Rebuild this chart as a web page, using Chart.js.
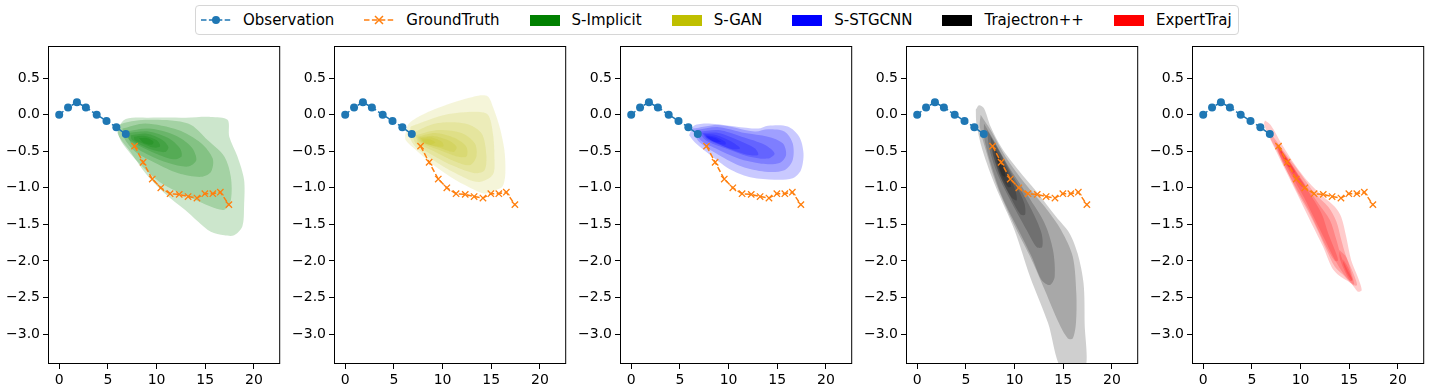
<!DOCTYPE html>
<html lang="en">
<head>
<meta charset="UTF-8">
<title>Trajectory prediction densities</title>
<script src="https://cdn.jsdelivr.net/npm/chart.js"></script>
<style>
  body { margin: 0; background: #fff; font-family: "DejaVu Sans", sans-serif; }
  #wrap { position: relative; width: 1432px; height: 392px; overflow: hidden; }
  .panel { position: absolute; top: 40px; }
  #legend { position: absolute; left: 195px; top: 5px; height: 30px; box-sizing: border-box;
            border: 1px solid #d6d6d6; border-radius: 4px; display: flex; align-items: center;
            padding: 0 6px 0 5px; font-size: 15px; color: #000; white-space: nowrap; }
  .item { display: flex; align-items: center; margin-right: 30px; }
  .item:last-child { margin-right: 0; }
  .item svg, .item .patch { margin-right: 12px; flex: none; }
  .patch { width: 30px; height: 11px; }
</style>
</head>
<body>
<div id="wrap">
  <div id="legend"></div>
</div>
<script>
// observed and future trajectory (same in every panel)
const obsX = [0, 0.91, 1.82, 2.74, 3.85, 4.86, 5.87, 6.84];
const obsY = [0, 0.10, 0.17, 0.10, 0, -0.085, -0.17, -0.265];
const gtX = [7.74, 8.62, 9.56, 10.44, 11.39, 12.33, 13.24, 14.15, 14.96, 15.78, 16.55, 17.43];
const gtY = [-0.43, -0.65, -0.88, -1.0, -1.08, -1.09, -1.12, -1.14, -1.08, -1.08, -1.06, -1.23];

const xTicks = [0, 5, 10, 15, 20];
const yTicks = [0.5, 0, -0.5, -1.0, -1.5, -2.0, -2.5, -3.0];

const models = ['S-Implicit', 'S-GAN', 'S-STGCNN', 'Trajectron++', 'ExpertTraj'];
const modelColors = ['0,128,0', '191,191,0', '0,0,255', '0,0,0', '255,0,0'];
const levelAlpha = [0.2, 0.15, 0.21, 0.19, 0.2];

// density contour levels, outermost first (x, y)
const implicitLevels = [
  [[5.98,-0.19],[6.83,-0.06],[9.19,-0.04],[13.0,-0.04],[15.57,-0.03],[17.29,-0.07],[17.47,-0.30],[18.31,-0.57],[18.99,-0.89],[18.99,-1.26],[18.81,-1.53],[17.97,-1.65],[16.96,-1.65],[15.57,-1.60],[14.25,-1.46],[12.91,-1.30],[10.88,-1.08],[8.86,-0.80],[7.16,-0.48],[6.15,-0.30]],
  [[5.98,-0.25],[6.15,-0.14],[8.85,-0.07],[13.24,-0.12],[15.27,-0.35],[16.96,-0.57],[17.63,-0.85],[17.63,-1.17],[16.96,-1.30],[15.6,-1.26],[13.24,-1.12],[10.54,-0.94],[8.18,-0.66],[6.49,-0.39]],
  [[6.49,-0.19],[8.85,-0.12],[12.23,-0.21],[14.59,-0.39],[15.77,-0.60],[15.6,-0.78],[14.59,-0.85],[12.23,-0.80],[9.87,-0.66],[7.84,-0.51],[6.66,-0.32]],
  [[6.83,-0.23],[9.19,-0.19],[11.89,-0.28],[13.58,-0.44],[14.09,-0.62],[13.24,-0.71],[11.22,-0.66],[9.19,-0.55],[7.50,-0.41]],
  [[6.99,-0.25],[9.19,-0.23],[11.22,-0.32],[12.4,-0.46],[12.57,-0.57],[11.72,-0.61],[9.87,-0.53],[8.0,-0.41],[7.16,-0.34]],
  [[7.34,-0.28],[9.02,-0.26],[10.54,-0.34],[11.22,-0.44],[10.88,-0.51],[9.52,-0.48],[8.0,-0.39],[7.44,-0.34]],
  [[7.67,-0.30],[8.85,-0.29],[10.03,-0.35],[10.37,-0.43],[9.70,-0.45],[8.51,-0.39],[7.77,-0.35]],
  [[8.18,-0.32],[9.02,-0.32],[9.70,-0.37],[9.52,-0.41],[8.68,-0.39]]
];
const ganLevels = [
  [[6.15,-0.28],[6.55,-0.12],[8.25,0.02],[10.94,0.16],[13.65,0.26],[14.66,0.25],[15.17,0.11],[15.85,-0.16],[16.35,-0.48],[16.45,-0.80],[16.18,-0.98],[15.5,-1.03],[14.33,-1.08],[13.31,-1.03],[11.29,-0.89],[9.26,-0.71],[7.23,-0.48],[6.22,-0.35]],
  [[6.72,-0.16],[10.27,0.0],[13.31,0.04],[14.66,0.0],[15.17,-0.25],[15.33,-0.57],[15.17,-0.82],[13.65,-0.92],[11.62,-0.82],[9.26,-0.64],[7.23,-0.44],[6.62,-0.30]],
  [[6.89,-0.25],[9.26,-0.12],[12.30,-0.12],[13.99,-0.25],[14.49,-0.53],[14.32,-0.76],[13.31,-0.80],[11.28,-0.71],[8.92,-0.55],[7.23,-0.39]],
  [[7.23,-0.28],[9.59,-0.21],[11.96,-0.25],[13.31,-0.39],[13.48,-0.57],[12.81,-0.69],[11.28,-0.64],[9.26,-0.51],[7.57,-0.39]],
  [[7.40,-0.30],[9.26,-0.25],[11.28,-0.32],[12.46,-0.44],[12.46,-0.57],[11.45,-0.57],[9.59,-0.48],[7.74,-0.38]],
  [[7.57,-0.31],[9.09,-0.29],[10.61,-0.35],[11.45,-0.44],[11.11,-0.51],[9.59,-0.45],[7.91,-0.38]],
  [[7.74,-0.32],[8.92,-0.31],[9.93,-0.37],[10.1,-0.43],[9.26,-0.43],[8.07,-0.38]],
  [[7.91,-0.34],[8.75,-0.34],[9.26,-0.38],[8.75,-0.41],[8.07,-0.38]]
];
const stgcnnLevels = [
  [[5.95,-0.28],[6.45,-0.15],[7.97,-0.12],[10.68,-0.16],[13.04,-0.19],[14.05,-0.15],[16.08,-0.16],[17.26,-0.30],[17.7,-0.53],[17.43,-0.76],[16.59,-0.87],[14.73,-0.89],[12.36,-0.86],[10.33,-0.76],[8.31,-0.57],[6.63,-0.39]],
  [[6.28,-0.19],[8.99,-0.14],[12.7,-0.23],[14.05,-0.20],[15.74,-0.23],[16.59,-0.39],[16.59,-0.62],[15.74,-0.76],[13.72,-0.78],[11.35,-0.71],[8.99,-0.55],[6.96,-0.37]],
  [[6.63,-0.21],[8.99,-0.17],[11.69,-0.25],[14.05,-0.30],[15.57,-0.39],[15.91,-0.55],[15.24,-0.66],[13.37,-0.67],[11.01,-0.60],[8.65,-0.46],[7.13,-0.35]],
  [[6.96,-0.23],[8.99,-0.21],[11.35,-0.30],[13.72,-0.41],[14.73,-0.53],[14.05,-0.60],[12.03,-0.57],[9.67,-0.46],[7.64,-0.35]],
  [[7.3,-0.25],[8.99,-0.25],[11.01,-0.35],[12.7,-0.46],[13.04,-0.55],[11.69,-0.54],[9.67,-0.44],[7.8,-0.34]],
  [[7.47,-0.26],[8.81,-0.28],[10.33,-0.37],[11.19,-0.46],[10.33,-0.47],[8.99,-0.40],[7.8,-0.32]],
  [[7.64,-0.28],[8.65,-0.30],[9.67,-0.37],[9.67,-0.41],[8.65,-0.38],[7.8,-0.32]],
  [[7.8,-0.29],[8.6,-0.32],[9.2,-0.37],[8.5,-0.37],[7.9,-0.32]]
];
const trajectronLevels = [
  [[6.02,0.07],[6.35,0.13],[6.86,0.09],[7.54,-0.16],[8.71,-0.46],[10.41,-0.76],[12.43,-1.08],[14.29,-1.40],[15.64,-1.62],[16.48,-1.90],[17.09,-2.31],[17.2,-2.85],[17.2,-3.5],[14.9,-3.5],[13.44,-2.85],[11.6,-2.22],[10.0,-1.58],[8.04,-0.98],[6.69,-0.48],[6.08,-0.12]],
  [[6.52,0.0],[7.54,-0.21],[9.06,-0.57],[11.08,-0.94],[13.11,-1.26],[14.79,-1.58],[15.98,-1.94],[16.35,-2.45],[16.31,-2.85],[15.98,-3.06],[15.47,-3.06],[14.55,-2.85],[13.11,-2.40],[11.6,-1.94],[9.9,-1.49],[8.21,-0.98],[7.03,-0.48],[6.42,-0.16]],
  [[6.86,-0.12],[7.87,-0.35],[9.39,-0.71],[11.42,-1.12],[13.11,-1.49],[13.95,-1.85],[14.12,-2.22],[13.62,-2.33],[12.77,-2.26],[11.75,-1.94],[10.41,-1.58],[8.71,-1.12],[7.54,-0.66],[6.86,-0.30]],
  [[7.19,-0.21],[8.38,-0.48],[10.07,-0.89],[11.75,-1.30],[12.77,-1.62],[12.84,-1.81],[12.26,-1.81],[11.25,-1.58],[9.73,-1.21],[8.21,-0.80],[7.37,-0.44]],
  [[7.54,-0.30],[8.71,-0.57],[10.07,-0.94],[11.01,-1.21],[11.08,-1.37],[10.58,-1.36],[9.56,-1.12],[8.38,-0.80],[7.64,-0.48]],
  [[7.70,-0.39],[9.06,-0.71],[10.07,-1.03],[10.23,-1.17],[9.73,-1.14],[8.71,-0.89],[7.87,-0.57]],
  [[7.97,-0.46],[9.06,-0.76],[9.67,-0.98],[9.32,-0.99],[8.55,-0.80],[8.04,-0.57]],
  [[8.21,-0.55],[8.89,-0.73],[9.06,-0.85],[8.71,-0.82],[8.31,-0.66]]
];
const expertLevels = [
  [[6.35,-0.08],[6.93,-0.14],[8.11,-0.41],[9.46,-0.69],[10.81,-0.92],[12.33,-1.12],[13.52,-1.26],[14.18,-1.40],[14.69,-1.67],[15.2,-1.99],[15.88,-2.22],[16.28,-2.40],[15.88,-2.42],[15.2,-2.31],[13.85,-2.19],[13.17,-2.08],[12.33,-1.81],[11.14,-1.49],[9.97,-1.17],[8.78,-0.85],[7.6,-0.53],[6.59,-0.25],[6.25,-0.12]],
  [[6.93,-0.25],[8.45,-0.53],[9.97,-0.80],[11.49,-1.08],[12.84,-1.26],[13.68,-1.46],[14.18,-1.71],[14.69,-1.94],[15.37,-2.15],[15.81,-2.33],[15.37,-2.33],[14.36,-2.19],[13.52,-2.08],[12.66,-1.85],[11.82,-1.60],[10.81,-1.33],[9.63,-1.05],[8.45,-0.73],[7.44,-0.46],[6.83,-0.30]],
  [[7.26,-0.35],[8.78,-0.62],[10.3,-0.92],[11.82,-1.21],[13.01,-1.44],[13.68,-1.71],[14.18,-1.94],[14.86,-2.13],[15.37,-2.26],[15.04,-2.27],[14.18,-2.13],[13.34,-1.94],[12.5,-1.71],[11.49,-1.44],[10.3,-1.12],[8.96,-0.80],[7.77,-0.53]],
  [[7.5,-0.39],[9.12,-0.71],[10.81,-1.05],[12.16,-1.35],[12.84,-1.62],[13.52,-1.85],[13.85,-1.99],[13.52,-2.0],[12.66,-1.81],[11.82,-1.58],[10.81,-1.30],[9.46,-0.98],[8.04,-0.62]],
  [[14.0,-1.85],[14.7,-1.95],[15.3,-2.2],[15.5,-2.32],[15.1,-2.28],[14.4,-2.1],[14.0,-1.95]],
  [[7.6,-0.39],[8.78,-0.62],[9.97,-0.87],[10.48,-0.98],[10.13,-0.99],[9.12,-0.80],[7.94,-0.53]],
  [[14.4,-1.98],[15.0,-2.12],[15.3,-2.27],[14.9,-2.2],[14.4,-2.05]],
  [[7.7,-0.41],[8.61,-0.60],[9.46,-0.78],[9.22,-0.79],[8.38,-0.62],[7.77,-0.47]],
  [[7.94,-0.48],[8.61,-0.62],[8.96,-0.71],[8.71,-0.71],[8.18,-0.57]]
];
const allLevels = [implicitLevels, ganLevels, stgcnnLevels, trajectronLevels, expertLevels];

const BLUE = '#1f77b4', ORANGE = '#ff7f0e';
const FONT = 'DejaVu Sans';

// legend
const legend = document.getElementById('legend');
legend.innerHTML =
  '<div class="item"><svg width="30" height="14"><line x1="0" y1="7" x2="30" y2="7" stroke="' + BLUE + '" stroke-width="1.5" stroke-dasharray="5.5 2.4"/><circle cx="15" cy="7" r="4" fill="' + BLUE + '"/></svg>Observation</div>' +
  '<div class="item"><svg width="30" height="14"><line x1="0" y1="7" x2="30" y2="7" stroke="' + ORANGE + '" stroke-width="1.5" stroke-dasharray="5.5 2.4"/><path d="M11 3 L19 11 M19 3 L11 11" stroke="' + ORANGE + '" stroke-width="1.5"/></svg>GroundTruth</div>' +
  models.map((m, i) => '<div class="item"><div class="patch" style="background:rgb(' + modelColors[i] + ')"></div>' + m + '</div>').join('');

// black frame round each axes box
const frame = {
  id: 'frame',
  afterDatasetsDraw(chart) {
    const {ctx, chartArea: a} = chart;
    ctx.save();
    ctx.strokeStyle = '#000';
    ctx.lineWidth = 1;
    ctx.strokeRect(a.left + 0.5, a.top + 0.5, a.right - a.left - 1, a.bottom - a.top - 1);
    ctx.restore();
  }
};

function toPoints(xs, ys) { return xs.map((x, i) => ({x: x, y: ys[i]})); }

const wrap = document.getElementById('wrap');
for (let k = 0; k < 5; k++) {
  const canvas = document.createElement('canvas');
  canvas.className = 'panel';
  canvas.width = 286;
  canvas.height = 352;
  canvas.style.left = (286 * k) + 'px';
  wrap.appendChild(canvas);

  const datasets = [
    {data: toPoints(obsX, obsY), borderColor: BLUE, borderWidth: 1.5, borderDash: [5.5, 2.4],
     pointRadius: 4, pointBackgroundColor: BLUE, pointBorderWidth: 0, fill: false, order: 0},
    {data: toPoints(gtX, gtY), borderColor: ORANGE, borderWidth: 1.5, borderDash: [5.5, 2.4],
     pointStyle: 'crossRot', pointRadius: 4.5, pointBorderColor: ORANGE, pointBorderWidth: 1.3, fill: false, order: 0}
  ];
  allLevels[k].forEach((poly, i) => {
    const pts = poly.map(p => ({x: p[0], y: p[1]}));
    pts.push({x: poly[0][0], y: poly[0][1]});
    datasets.push({
      data: pts, borderWidth: 0, borderColor: 'rgba(0,0,0,0)', pointRadius: 0,
      fill: 'shape', backgroundColor: 'rgba(' + modelColors[k] + ',' + levelAlpha[k] + ')',
      tension: 0.3, order: 50 - i
    });
  });

  const tickGrid = {display: true, drawOnChartArea: false, drawTicks: true, tickLength: 5, color: '#000', lineWidth: 1};
  new Chart(canvas, {
    type: 'line',
    data: {datasets: datasets},
    options: {
      responsive: false,
      animation: false,
      devicePixelRatio: 1,
      events: [],
      layout: {padding: {left: 0, right: 3, top: 6, bottom: 0}},
      plugins: {legend: {display: false}, tooltip: {enabled: false}},
      scales: {
        x: {
          type: 'linear', min: -1.15, max: 22.7,
          afterBuildTicks: s => { s.ticks = xTicks.map(v => ({value: v})); },
          afterFit: s => { s.height = 28; s.paddingLeft = 0; s.paddingRight = 0; },
          grid: tickGrid, border: {display: false},
          ticks: {color: '#000', font: {family: FONT, size: 14}, padding: 3, maxRotation: 0, autoSkip: false,
                  callback: v => String(v)}
        },
        y: {
          type: 'linear', min: -3.41, max: 0.94,
          afterBuildTicks: s => { s.ticks = yTicks.map(v => ({value: v})); },
          afterFit: s => { s.width = 48; s.paddingTop = 0; s.paddingBottom = 0; },
          grid: tickGrid, border: {display: false},
          ticks: {color: '#000', font: {family: FONT, size: 14}, padding: 3, autoSkip: false,
                  callback: v => v.toFixed(1).replace('-', '\u2212')}
        }
      }
    },
    plugins: [frame]
  });
}
</script>
</body>
</html>
